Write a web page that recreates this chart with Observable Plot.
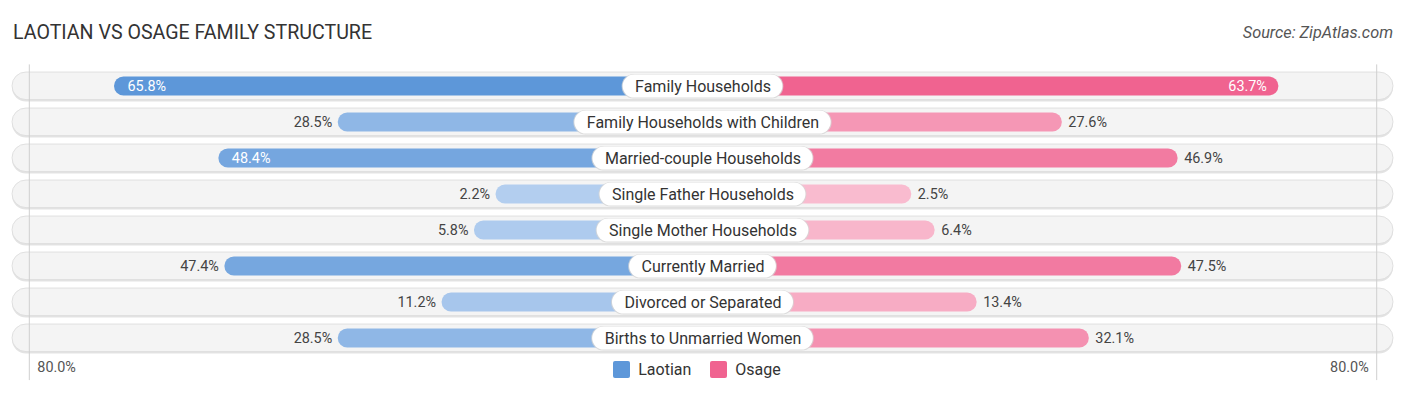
<!DOCTYPE html>
<html><head><meta charset="utf-8">
<script src="https://cdn.jsdelivr.net/npm/d3@7"></script>
<script src="https://cdn.jsdelivr.net/npm/@observablehq/plot@0.6"></script>
<style>
body{margin:0;background:#fff;font-family:Roboto,sans-serif;}
#wrap{position:relative;width:1406px;height:395px;overflow:hidden;}
#wrap svg{position:absolute;left:0;top:0;}
#title{position:absolute;left:13px;top:21px;font-size:19.6px;color:#333;white-space:nowrap;z-index:2}
#source{position:absolute;right:13px;top:23px;font-size:16.3px;font-style:italic;color:#555;z-index:2}
#legend{position:absolute;top:360px;left:-6px;width:1406px;display:flex;justify-content:center;gap:19px;font-size:16px;color:#333;z-index:2}
.item{display:flex;align-items:center;gap:8px;line-height:19px}
.sw{width:17px;height:17px;border-radius:2px;display:inline-block}
</style></head>
<body>
<div id="wrap">
  <div id="title">LAOTIAN VS OSAGE FAMILY STRUCTURE</div>
  <div id="source">Source: ZipAtlas.com</div>
  <div id="legend"></div>
</div>
<script>
const categories = ["Family Households","Family Households with Children","Married-couple Households","Single Father Households","Single Mother Households","Currently Married","Divorced or Separated","Births to Unmarried Women"];
const laotian = [65.8,28.5,48.4,2.2,5.8,47.4,11.2,28.5];
const osage = [63.7,27.6,46.9,2.5,6.4,47.5,13.4,32.1];
const seriesNames = ["Laotian","Osage"];
const axisMax = 80;

const OFF = 32.3, XMAX = 115.1, W = 1406, H = 395;
const k = (W - 12 - 13) / (2 * XMAX);
const rows = categories.map((c, i) => ({category: c, laotian: laotian[i], osage: osage[i]}));
const blueC = d3.interpolateRgb("#b6d0f0", "#5d97d9");
const pinkC = d3.interpolateRgb("#f9bfd2", "#f06390");
const maxL = d3.max(laotian), maxO = d3.max(osage);
const strongBlue = blueC(1), strongPink = pinkC(1);
const inside = v => v >= 48;
const fmt = v => v.toFixed(1) + "%";

const ctx = document.createElement("canvas").getContext("2d");
ctx.font = "16px Roboto";
const halfW = t => (ctx.measureText(t).width / 2 + 12) / k;

const chart = Plot.plot({
  width: W, height: H,
  marginLeft: 12, marginRight: 13, marginTop: 67.4, marginBottom: 37.9,
  x: {domain: [-XMAX, XMAX], axis: null},
  y: {domain: categories, padding: 0, axis: null},
  style: {fontFamily: "Roboto, sans-serif", fontSize: "14px", background: "transparent"},
  marks: [
    Plot.barX(rows, {x1: () => -XMAX, x2: () => XMAX, y: "category", fill: "#e3e3e3", rx: 14, insetTop: 5, insetBottom: 2.5}),
    Plot.barX(rows, {x1: () => -XMAX, x2: () => XMAX, y: "category", fill: "#f4f4f4", stroke: "#dadada", strokeWidth: 0.8, rx: 14, insetTop: 4, insetBottom: 4.4}),
    Plot.ruleX([-(axisMax + OFF), axisMax + OFF], {stroke: "#cfcfcf", strokeWidth: 1, insetTop: -3, insetBottom: -23}),
    Plot.barX(rows, {x1: () => 0, x2: d => -(d.laotian + OFF), y: "category", fill: d => blueC(d.laotian / maxL), rx: 9.5, insetTop: 8.6, insetBottom: 8.6}),
    Plot.barX(rows, {x1: () => 0, x2: d => d.osage + OFF, y: "category", fill: d => pinkC(d.osage / maxO), rx: 9.5, insetTop: 8.6, insetBottom: 8.6}),
    Plot.barX(rows, {x1: d => -halfW(d.category) - 0.15, x2: d => halfW(d.category) + 0.15, y: "category", fill: "#d6d6d6", fillOpacity: 0.8, rx: 12, insetTop: 6, insetBottom: 5.4}),
    Plot.barX(rows, {x1: d => -halfW(d.category), x2: d => halfW(d.category), y: "category", fill: "#ffffff", rx: 11.5, insetTop: 6.6, insetBottom: 6.4}),
    Plot.text(rows, {x: () => 0, y: "category", text: "category", fontSize: 16, fill: "#333"}),
    Plot.text(rows.filter(d => inside(d.laotian)), {x: d => -(d.laotian + OFF), y: "category", text: d => fmt(d.laotian), textAnchor: "start", dx: 13, fill: "#fff", fontSize: 14.4}),
    Plot.text(rows.filter(d => !inside(d.laotian)), {x: d => -(d.laotian + OFF), y: "category", text: d => fmt(d.laotian), textAnchor: "end", dx: -6, fill: "#444", fontSize: 14.4}),
    Plot.text(rows.filter(d => inside(d.osage)), {x: d => d.osage + OFF, y: "category", text: d => fmt(d.osage), textAnchor: "end", dx: -12, fill: "#fff", fontSize: 14.4}),
    Plot.text(rows.filter(d => !inside(d.osage)), {x: d => d.osage + OFF, y: "category", text: d => fmt(d.osage), textAnchor: "start", dx: 6, fill: "#444", fontSize: 14.4}),
    Plot.text([axisMax], {x: v => -(v + OFF), frameAnchor: "bottom", text: v => fmt(v), textAnchor: "start", dx: 8, dy: 14, fill: "#555", fontSize: 14.4}),
    Plot.text([axisMax], {x: v => v + OFF, frameAnchor: "bottom", text: v => fmt(v), textAnchor: "end", dx: -8, dy: 14, fill: "#555", fontSize: 14.4})
  ]
});
const wrap = document.getElementById("wrap");
wrap.insertBefore(chart, wrap.firstChild);
const legend = document.getElementById("legend");
[[seriesNames[0], strongBlue], [seriesNames[1], strongPink]].forEach(([n, c]) => {
  const it = document.createElement("div"); it.className = "item";
  it.innerHTML = `<span class="sw" style="background:${c}"></span><span>${n}</span>`;
  legend.appendChild(it);
});
</script>
</body></html>
